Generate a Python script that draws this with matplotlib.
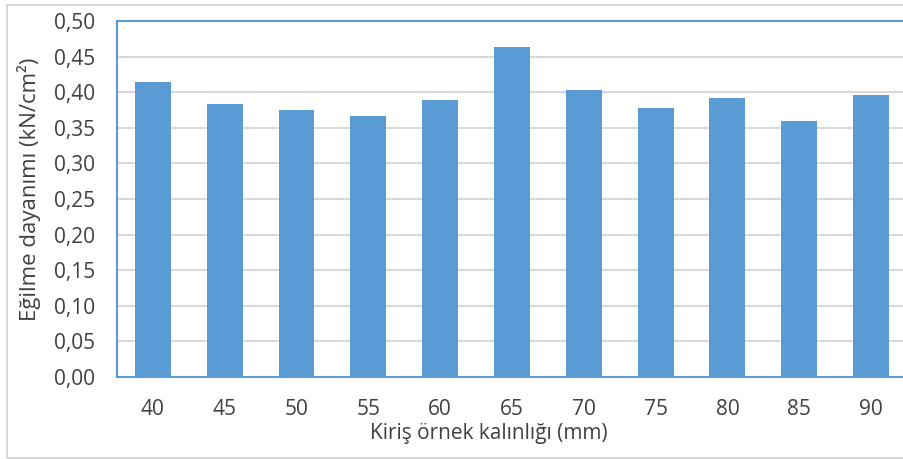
import matplotlib
matplotlib.use("Agg")
import matplotlib.pyplot as plt
from matplotlib.ticker import FuncFormatter, MultipleLocator
from matplotlib.patches import Rectangle

plt.rcParams["font.family"] = ["Open Sans", "DejaVu Sans"]

# ========= データ =========
thickness = ["40", "45", "50", "55", "60", "65", "70", "75", "80", "85", "90"]
strength = [0.414, 0.383, 0.375, 0.367, 0.389, 0.463, 0.403, 0.378, 0.392, 0.360, 0.396]

BLUE = "#5b9bd5"
TEXT = "#404040"
GRID = "#d9d9d9"

W, H = 904, 459
fig = plt.figure(figsize=(W / 100, H / 100), dpi=100)

# outer chart border
fig.patches.append(Rectangle((7 / W, 1 / H), 1.0, (458 - 5) / H, transform=fig.transFigure,
                             fill=False, edgecolor=GRID, linewidth=1.5))

# plot area (right edge is cut off in the reference)
left, right, top, bottom = 117, 907, 21, 377
ax = fig.add_axes([left / W, (H - bottom) / H, (right - left) / W, (bottom - top) / H])

x = range(len(thickness))
ax.bar(x, strength, width=0.5, color=BLUE, zorder=3)

ax.set_xlim(-0.5, len(thickness) - 0.5)
ax.set_ylim(0, 0.5)
ax.yaxis.set_major_locator(MultipleLocator(0.05))
ax.yaxis.set_major_formatter(FuncFormatter(lambda v, p: f"{v:.2f}".replace(".", ",")))
ax.set_xticks(list(x))
ax.set_xticklabels(thickness)

ax.grid(axis="y", color=GRID, linewidth=1.5, zorder=0)
ax.tick_params(axis="both", length=0, labelsize=15, labelcolor=TEXT)
ax.tick_params(axis="y", pad=16)
ax.tick_params(axis="x", pad=16)

for side in ["left", "bottom", "top", "right"]:
    ax.spines[side].set_color(BLUE)
    ax.spines[side].set_linewidth(1.5)

ax.set_xlabel("Kiriş örnek kalınlığı (mm)", fontsize=15, color=TEXT, labelpad=4)
ax.xaxis.set_label_coords(0.471, -0.13)
ax.set_ylabel("Eğilme dayanımı (kN/cm²)", fontsize=16, color=TEXT, labelpad=6)
ax.yaxis.set_label_coords(-0.096, 0.528)

fig.savefig("out.png", dpi=100)
